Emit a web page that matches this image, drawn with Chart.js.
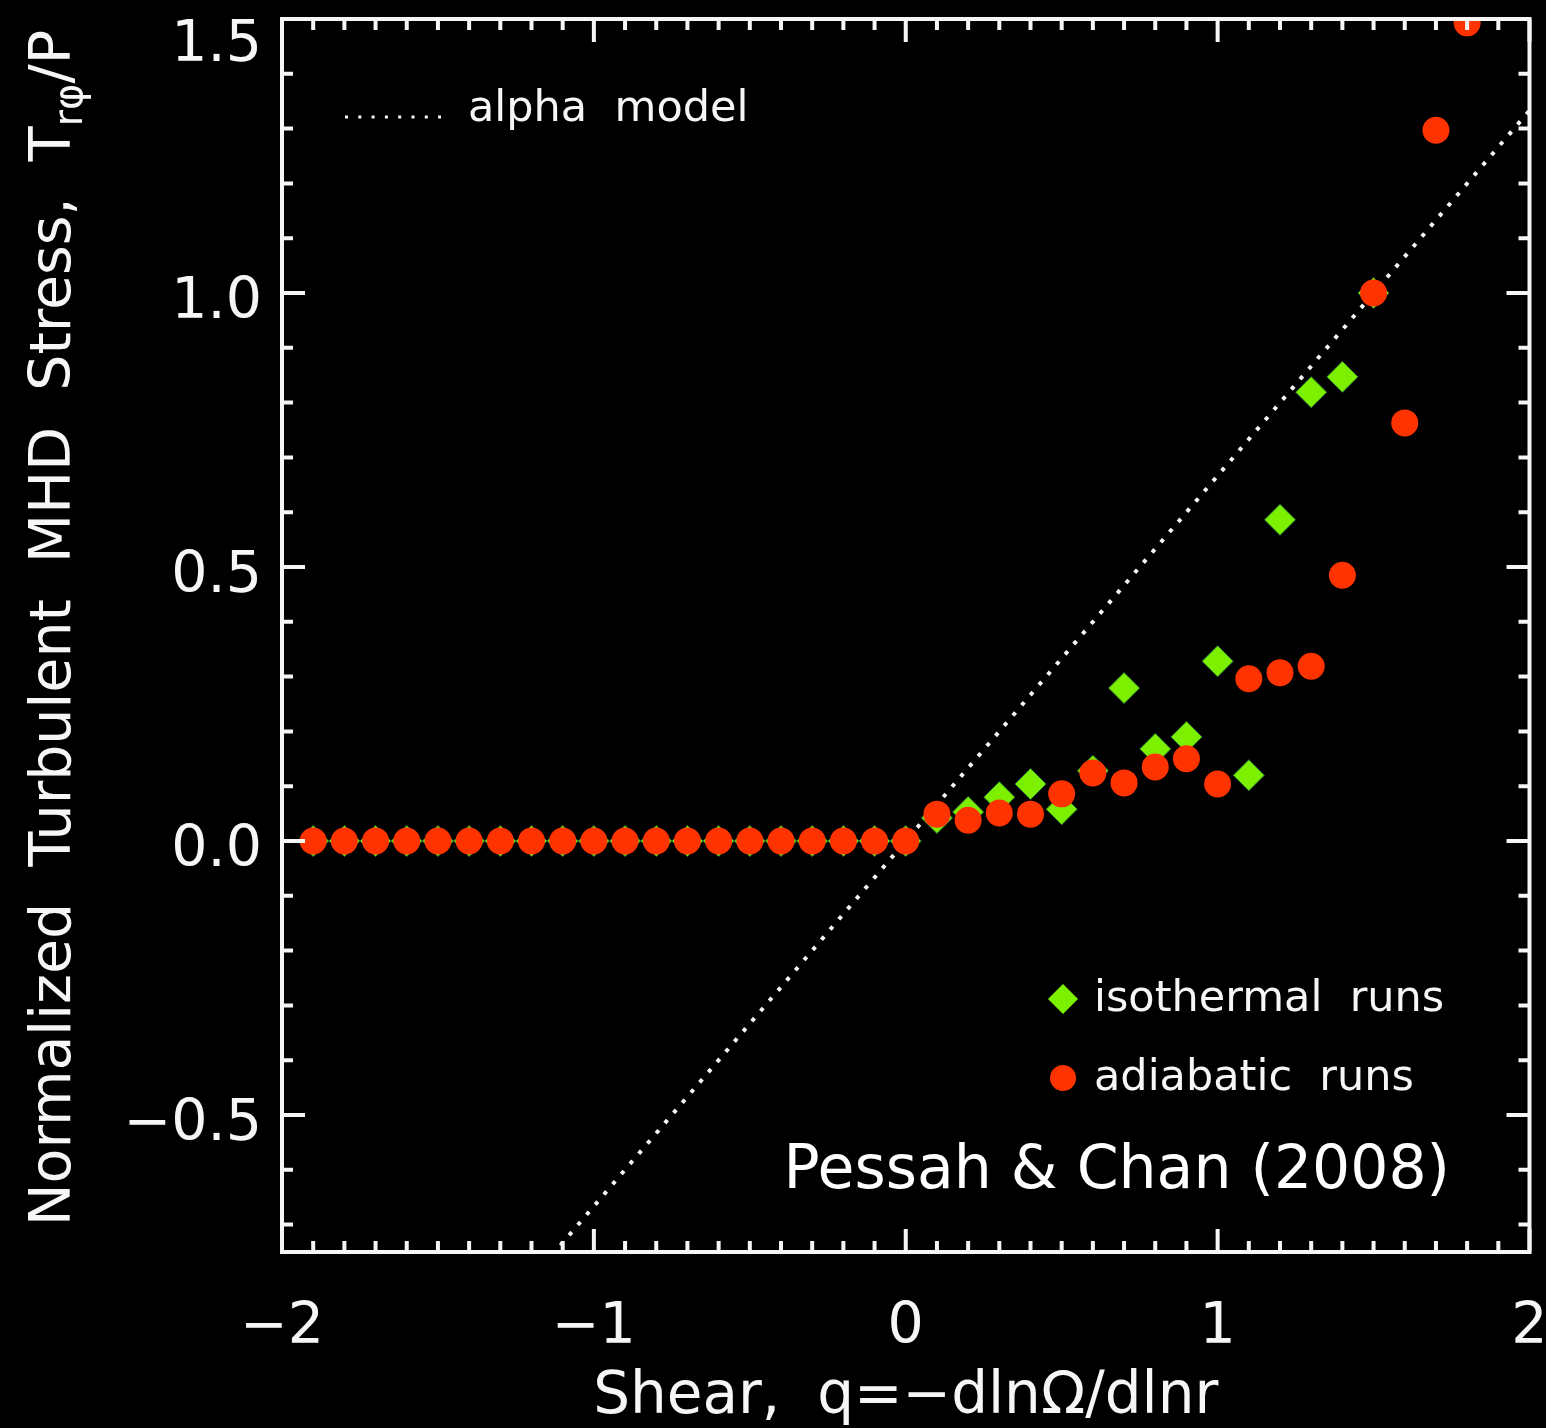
<!DOCTYPE html>
<html>
<head>
<meta charset="utf-8">
<script src="https://cdn.jsdelivr.net/npm/chart.js@4.4.1/dist/chart.umd.min.js"></script>
<style>
  html, body { margin: 0; padding: 0; background: #000; }
  #wrap { width: 1546px; height: 1428px; }
</style>
</head>
<body>
<div id="wrap"><canvas id="chart" width="1546" height="1428"></canvas></div>
<script>
// adiabatic runs (red circles)
const shearAdiabatic = [-1.9, -1.8, -1.7, -1.6, -1.5, -1.4, -1.3, -1.2, -1.1, -1.0,
  -0.9, -0.8, -0.7, -0.6, -0.5, -0.4, -0.3, -0.2, -0.1, 0.0,
  0.1, 0.2, 0.3, 0.4, 0.5, 0.6, 0.7, 0.8, 0.9, 1.0,
  1.1, 1.2, 1.3, 1.4, 1.5, 1.6, 1.7, 1.8];
const stressAdiabatic = [0, 0, 0, 0, 0, 0, 0, 0, 0, 0,
  0, 0, 0, 0, 0, 0, 0, 0, 0, 0,
  0.049, 0.038, 0.051, 0.049, 0.086, 0.124, 0.106, 0.135, 0.150, 0.104,
  0.296, 0.307, 0.319, 0.485, 1.0, 0.763, 1.297, 1.493];

// isothermal runs (green diamonds)
const shearIsothermal = [-1.9, -1.8, -1.7, -1.6, -1.5, -1.4, -1.3, -1.2, -1.1, -1.0,
  -0.9, -0.8, -0.7, -0.6, -0.5, -0.4, -0.3, -0.2, -0.1, 0.0,
  0.1, 0.2, 0.3, 0.4, 0.5, 0.6, 0.7, 0.8, 0.9, 1.0,
  1.1, 1.2, 1.3, 1.4, 1.5];
const stressIsothermal = [0, 0, 0, 0, 0, 0, 0, 0, 0, 0,
  0, 0, 0, 0, 0, 0, 0, 0, 0, 0,
  0.042, 0.053, 0.080, 0.104, 0.058, 0.128, 0.279, 0.168, 0.190, 0.328,
  0.120, 0.586, 0.819, 0.847, 1.0];

// alpha model line
const alphaShear = [-2, 2];
const alphaStress = [-1.333, 1.333];

// axes
const xTickValues = [-2, -1, 0, 1, 2];
const xTickLabels = ["\u22122", "\u22121", "0", "1", "2"];
const yTickValues = [-0.5, 0.0, 0.5, 1.0, 1.5];
const yTickLabels = ["\u22120.5", "0.0", "0.5", "1.0", "1.5"];

const white = "#f6f6f6";
const red = "#ff3300";
const green = "#7df000";
const mainFont = '"DejaVu Sans", sans-serif';

const toPoints = (xs, ys) => xs.map((x, i) => ({ x: x, y: ys[i] }));

// frame, inward ticks, labels and legend (IDL style)
const idlAxes = {
  id: "idlAxes",
  beforeDraw(chart) {
    const ctx = chart.ctx;
    ctx.save();
    ctx.fillStyle = "#000";
    ctx.fillRect(0, 0, chart.width, chart.height);
    ctx.restore();
  },
  afterDatasetsDraw(chart) {
    const ctx = chart.ctx;
    const a = chart.chartArea;
    const xs = chart.scales.x;
    const ys = chart.scales.y;
    ctx.save();
    ctx.strokeStyle = white;
    ctx.lineWidth = 4;
    ctx.strokeRect(a.left, a.top, a.right - a.left, a.bottom - a.top);

    // x ticks, every 0.1, major every 1
    for (let i = -20; i <= 20; i++) {
      const px = xs.getPixelForValue(i / 10);
      const len = i % 10 === 0 ? 23 : 11;
      ctx.beginPath();
      ctx.moveTo(px, a.bottom);
      ctx.lineTo(px, a.bottom - len);
      ctx.moveTo(px, a.top);
      ctx.lineTo(px, a.top + len);
      ctx.stroke();
    }
    // y ticks, every 0.1, major every 0.5
    for (let i = -7; i <= 15; i++) {
      const py = ys.getPixelForValue(i / 10);
      const len = i % 5 === 0 ? 23 : 11;
      ctx.beginPath();
      ctx.moveTo(a.left, py);
      ctx.lineTo(a.left + len, py);
      ctx.moveTo(a.right, py);
      ctx.lineTo(a.right - len, py);
      ctx.stroke();
    }
    ctx.restore();
  },
  afterDraw(chart) {
    const ctx = chart.ctx;
    const a = chart.chartArea;
    const xs = chart.scales.x;
    const ys = chart.scales.y;
    ctx.save();
    ctx.fillStyle = white;

    // tick labels
    ctx.font = "57px " + mainFont;
    ctx.textAlign = "center";
    ctx.textBaseline = "alphabetic";
    xTickValues.forEach((v, i) => {
      ctx.fillText(xTickLabels[i], xs.getPixelForValue(v), a.bottom + 91);
    });
    ctx.textAlign = "right";
    yTickValues.forEach((v, i) => {
      const py = Math.max(ys.getPixelForValue(v) + 25, 61);
      ctx.fillText(yTickLabels[i], a.left - 20, py);
    });

    // x title
    ctx.textAlign = "center";
    ctx.font = "58px " + mainFont;
    ctx.fillText("Shear,  q=\u2212dln\u03A9/dlnr", (a.left + a.right) / 2, 1413);

    // y title with subscript
    ctx.save();
    ctx.translate(70, 628);
    ctx.rotate(-Math.PI / 2);
    ctx.textAlign = "left";
    const part1 = "Normalized  Turbulent  MHD  Stress,  T";
    const part2 = "r\u03C6";
    const part3 = "/P";
    ctx.font = "57px " + mainFont;
    const w1 = ctx.measureText(part1).width;
    const w3 = ctx.measureText(part3).width;
    ctx.font = "40px " + mainFont;
    const w2 = ctx.measureText(part2).width;
    let x0 = -(w1 + w2 + w3) / 2;
    ctx.font = "57px " + mainFont;
    ctx.fillText(part1, x0, 0);
    ctx.font = "40px " + mainFont;
    ctx.fillText(part2, x0 + w1, 12);
    ctx.font = "57px " + mainFont;
    ctx.fillText(part3, x0 + w1 + w2, 0);
    ctx.restore();

    // legend: alpha model
    ctx.strokeStyle = white;
    ctx.lineWidth = 3;
    ctx.setLineDash([3, 10.3]);
    ctx.beginPath();
    ctx.moveTo(345, 117);
    ctx.lineTo(441, 117);
    ctx.stroke();
    ctx.setLineDash([]);
    ctx.textAlign = "left";
    ctx.font = "43px " + mainFont;
    ctx.fillText("alpha  model", 468, 121);

    // legend: isothermal / adiabatic
    ctx.fillStyle = green;
    ctx.beginPath();
    ctx.moveTo(1063 - 15, 999);
    ctx.lineTo(1063, 999 - 15);
    ctx.lineTo(1063 + 15, 999);
    ctx.lineTo(1063, 999 + 15);
    ctx.closePath();
    ctx.fill();
    ctx.fillStyle = red;
    ctx.beginPath();
    ctx.arc(1063, 1078, 13, 0, Math.PI * 2);
    ctx.fill();
    ctx.fillStyle = white;
    ctx.fillText("isothermal  runs", 1094, 1011);
    ctx.fillText("adiabatic  runs", 1094, 1090);

    // citation
    ctx.font = "60px " + mainFont;
    ctx.textAlign = "right";
    ctx.fillStyle = "#ffffff";
    ctx.fillText("Pessah & Chan (2008)", 1450, 1188);
    ctx.restore();
  }
};

const ctx = document.getElementById("chart").getContext("2d");
new Chart(ctx, {
  type: "scatter",
  data: {
    datasets: [
      {
        label: "adiabatic runs",
        data: toPoints(shearAdiabatic, stressAdiabatic),
        pointStyle: "circle",
        pointRadius: 13.5,
        pointBackgroundColor: red,
        pointBorderWidth: 0,
        borderColor: red,
        clip: 0,
        order: 1,
      },
      {
        label: "isothermal runs",
        data: toPoints(shearIsothermal, stressIsothermal),
        pointStyle: "rectRot",
        pointRadius: 15.5,
        pointBackgroundColor: green,
        pointBorderColor: "#2a7a3a",
        pointBorderWidth: 1,
        clip: 0,
        order: 2,
      },
      {
        label: "alpha model",
        type: "line",
        data: toPoints(alphaShear, alphaStress),
        borderColor: white,
        borderWidth: 4,
        borderDash: [4, 9.4],
        pointRadius: 0,
        fill: false,
        clip: 0,
        order: 3,
      },
    ],
  },
  options: {
    responsive: false,
    devicePixelRatio: 1,
    animation: false,
    layout: {
      padding: { left: 282, right: 16, top: 19, bottom: 176 },
    },
    plugins: {
      legend: { display: false },
      tooltip: { enabled: false },
    },
    scales: {
      x: { type: "linear", min: -2, max: 2, display: false },
      y: { type: "linear", min: -0.75, max: 1.5, display: false },
    },
  },
  plugins: [idlAxes],
});
</script>
</body>
</html>
